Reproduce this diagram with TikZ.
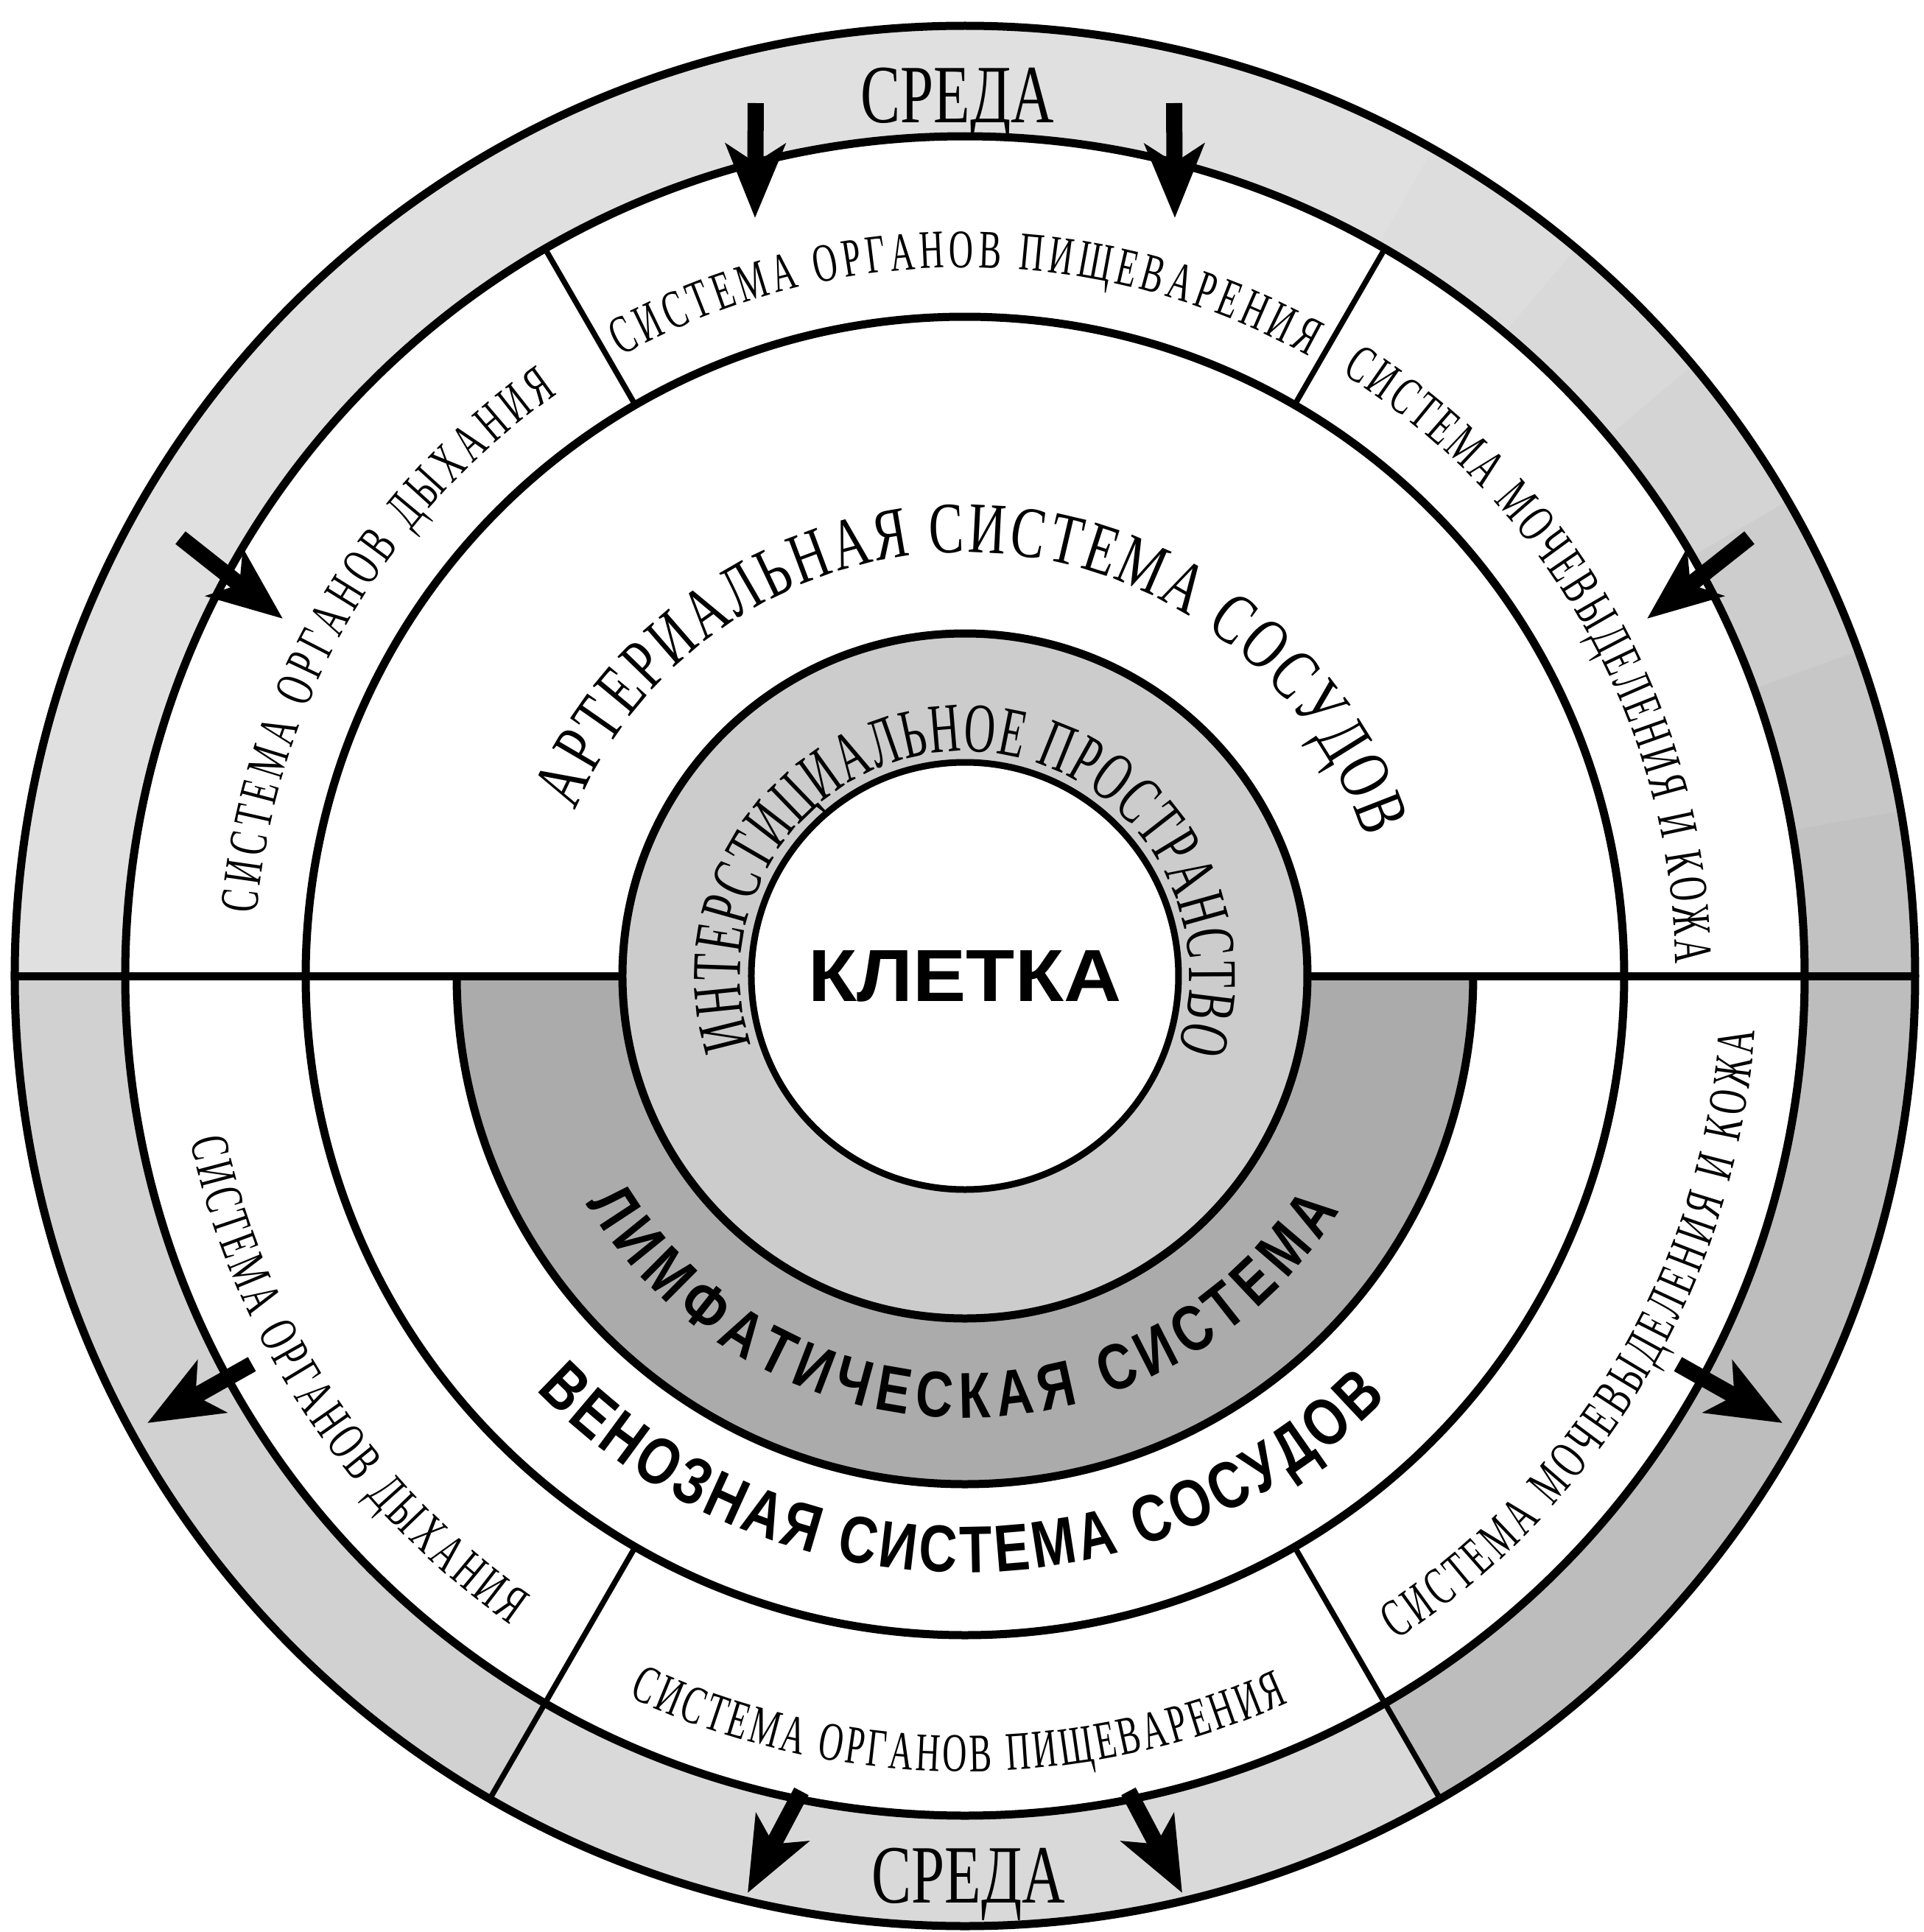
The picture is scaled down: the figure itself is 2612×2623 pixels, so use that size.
\documentclass[tikz,border=0pt]{standalone}
\usepackage{fontspec}
\setmainfont{Liberation Serif}
\newfontfamily\condserif[FakeStretch=0.72]{Liberation Serif}
\newfontfamily\tallserif[FakeStretch=0.62]{Liberation Serif}
\newfontfamily\cyrsans[FakeStretch=0.8]{Liberation Sans Bold}
\newfontfamily\cellfont[FakeStretch=1.08]{Liberation Sans Bold}
\usetikzlibrary{arrows.meta, decorations.text}

\begin{document}
\begin{tikzpicture}[x=0.1mm, y=0.1mm,
  ring/.style={line width=1.1mm},
  divider/.style={line width=0.75mm},
  flow/.style={line width=2.2mm, -{Stealth[length=10mm, width=8mm, inset=2.5mm]}},
  arctext/.style 2 args={decorate, decoration={text along path,
    text align={fit to path}, text={|#1|#2}}},
  organ/.style={arctext={\tallserif\fontsize{21}{21}\selectfont}{#1}},
  vessel/.style={arctext={\cyrsans\fontsize{25.6}{25.6}\selectfont}{#1}}]

  \fill[white] (-1310,-1298) rectangle (1302,1325);
  \useasboundingbox (-1310,-1298) rectangle (1302,1325);

  \fill[gray!24, even odd rule] (0,0) circle[radius=1290] (0,0) circle[radius=1140];
  \foreach \a/\g in {0/48, 10/44, 20/39, 30/34, 40/30, 50/27} {
    \pgfmathsetmacro\b{\a+10.5}
    \fill[gray!\g] (\a:1140) -- (\a:1290) arc[start angle=\a, end angle=\b, radius=1290]
      -- (\b:1140) arc[start angle=\b, end angle=\a, radius=1140] -- cycle;
  }
  \fill[gray!36] (180:1140) -- (180:1290) arc[start angle=180, end angle=240, radius=1290]
    -- (240:1140) arc[start angle=240, end angle=180, radius=1140] -- cycle;
  \fill[gray!30] (240:1140) -- (240:1290) arc[start angle=240, end angle=300, radius=1290]
    -- (300:1140) arc[start angle=300, end angle=240, radius=1140] -- cycle;
  \fill[gray!52] (300:1140) -- (300:1290) arc[start angle=300, end angle=360, radius=1290]
    -- (360:1140) arc[start angle=360, end angle=300, radius=1140] -- cycle;
  \fill[gray!66] (180:690) arc[start angle=180, end angle=360, radius=690]
    -- (0:465) arc[start angle=0, end angle=-180, radius=465] -- cycle;
  \fill[gray!40, even odd rule] (0,0) circle[radius=465] (0,0) circle[radius=290];

  \draw[ring] (0,0) circle[radius=1290] (0,0) circle[radius=1140] (0,0) circle[radius=895];
  \draw[ring] (0,0) circle[radius=465];
  \draw[ring, line width=0.9mm] (0,0) circle[radius=290];
  \draw[ring] (180:690) arc[start angle=180, end angle=360, radius=690];
  \draw[ring] (-1290,0) -- (-465,0) (465,0) -- (1290,0);
  \draw[divider] (60:895) -- (60:1140) (120:895) -- (120:1140)
    (240:895) -- (240:1290) (300:895) -- (300:1290);

  \node[font=\cellfont\fontsize{28.5}{28.5}\selectfont, inner sep=0] (cell) at (0,0) {КЛЕТКА};
  \node[font=\condserif\fontsize{32}{32}\selectfont, anchor=base, inner sep=0]
    (envTop) at (-10,1158) {СРЕДА};
  \node[font=\condserif\fontsize{32}{32}\selectfont, anchor=base, inner sep=0]
    (envBottom) at (5,-1258) {СРЕДА};

  \path[organ={СИСТЕМА ОРГАНОВ ПИЩЕВАРЕНИЯ}] (119:962) arc[start angle=119, end angle=61, radius=962];
  \path[organ={СИСТЕМА ОРГАНОВ ДЫХАНИЯ}] (175:965) arc[start angle=175, end angle=125, radius=965];
  \path[organ={СИСТЕМА МОЧЕВЫДЕЛЕНИЯ И КОЖА}] (58:965) arc[start angle=58, end angle=1, radius=965];
  \path[organ={СИСТЕМА ОРГАНОВ ДЫХАНИЯ}] (192:1075) arc[start angle=192, end angle=235, radius=1075];
  \path[organ={СИСТЕМА ОРГАНОВ ПИЩЕВАРЕНИЯ}] (245:1080) arc[start angle=245, end angle=294, radius=1080];
  \path[organ={СИСТЕМА МОЧЕВЫДЕЛЕНИЯ И КОЖА}] (303:1075) arc[start angle=303, end angle=356, radius=1075];

  \path[arctext={\condserif\fontsize{28}{28}\selectfont}{АРТЕРИАЛЬНАЯ СИСТЕМА СОСУДОВ}]
    (157:575) arc[start angle=157, end angle=19, radius=575];
  \path[arctext={\tallserif\fontsize{27}{27}\selectfont}{ИНТЕРСТИЦИАЛЬНОЕ ПРОСТРАНСТВО}]
    (198:305) arc[start angle=198, end angle=-19, radius=305];
  \path[arctext={\cyrsans\fontsize{25}{25}\selectfont}{ЛИМФАТИЧЕСКАЯ СИСТЕМА}]
    (211:600) arc[start angle=211, end angle=328, radius=600];
  \path[vessel={ВЕНОЗНАЯ СИСТЕМА СОСУДОВ}] (224:810) arc[start angle=224, end angle=315, radius=810];

  \coordinate (inL) at (-284,1185);      \coordinate (inLtip) at (-285,1029);
  \coordinate (inR) at (284,1185);       \coordinate (inRtip) at (285,1029);
  \coordinate (breathIn) at (-1065,595); \coordinate (breathInTip) at (-926,485);
  \coordinate (skinIn) at (1065,595);    \coordinate (skinInTip) at (926,485);
  \coordinate (breathOut) at (-968,-527); \coordinate (breathOutTip) at (-1110,-607);
  \coordinate (skinOut) at (968,-527);   \coordinate (skinOutTip) at (1110,-607);
  \coordinate (outL) at (-222,-1107);    \coordinate (outLtip) at (-295,-1245);
  \coordinate (outR) at (222,-1107);     \coordinate (outRtip) at (295,-1245);

  \draw[flow] (inL) -- (inLtip);
  \draw[flow] (inR) -- (inRtip);
  \draw[flow] (breathIn) -- (breathInTip);
  \draw[flow] (skinIn) -- (skinInTip);
  \draw[flow] (breathOut) -- (breathOutTip);
  \draw[flow] (skinOut) -- (skinOutTip);
  \draw[flow] (outL) -- (outLtip);
  \draw[flow] (outR) -- (outRtip);
\end{tikzpicture}
\end{document}
